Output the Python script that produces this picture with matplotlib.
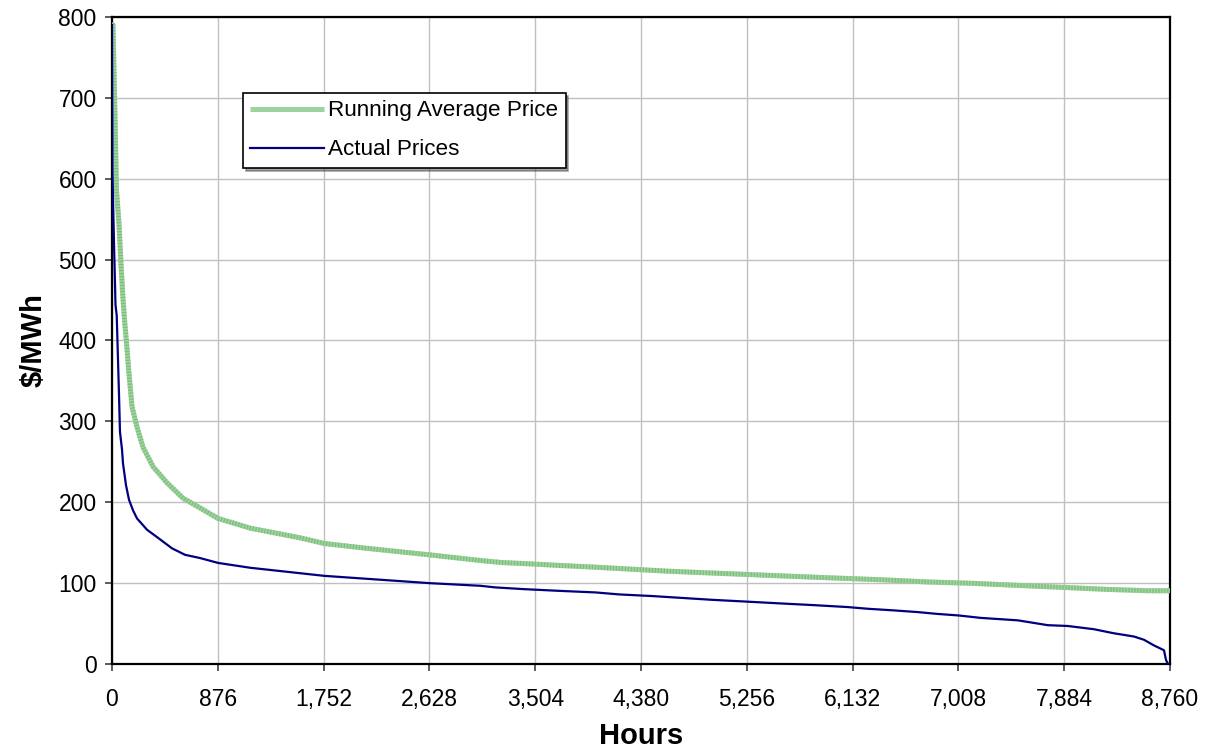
import matplotlib
matplotlib.use("Agg")
import matplotlib.pyplot as plt

plt.rcParams['font.family'] = ['Liberation Sans', 'DejaVu Sans']

# Actual prices (duration curve)
actual_hours = [0, 4, 8, 17, 29, 39, 58, 66, 83, 91, 116, 141, 174, 207, 290, 381, 497,
                605, 729, 878, 1144, 1757, 2627, 3050, 3174, 3406, 3696, 4003, 4202,
                4475, 4740, 4964, 5221, 5536, 5809, 6091, 6257, 6472, 6671, 6828, 7011,
                7193, 7500, 7748, 7914, 8130, 8295, 8461, 8544, 8627, 8710, 8727, 8743, 8760]
actual_prices = [790, 608, 577, 518, 444, 431, 333, 287, 265, 248, 221, 203, 190, 180, 166,
                 156, 143, 135, 131, 125, 119, 109, 100, 96.7, 94.7, 92.6, 90.5, 88.5, 86,
                 84, 81.5, 79.4, 77.4, 74.9, 72.8, 70.4, 68.3, 66.3, 64.2, 62, 60, 57, 54,
                 48, 47, 43, 38, 34, 30, 23, 17, 5, 0, 0]

# Running average price
avg_hours = [0, 8, 25, 37, 58, 75, 90, 105, 120, 140, 166, 207, 257, 340, 456, 588, 729,
             878, 1144, 1558, 1757, 2113, 2627, 3050, 3224, 3464, 3713, 4003, 4293, 4600,
             4931, 5263, 5602, 6008, 6381, 6762, 7135, 7508, 7881, 8246, 8577, 8760]
avg_prices = [790, 790, 675, 586, 544, 493, 454, 423, 398, 360, 318, 293, 268, 244, 224,
              205, 193, 180, 168, 156, 149, 143, 135, 128, 125.5, 123.8, 121.8, 119.7,
              117.3, 114.8, 112.7, 110.7, 108.6, 106.2, 104.1, 101.4, 99.7, 97.2, 94.7,
              92.2, 90.6, 90.6]

x_ticks = [0, 876, 1752, 2628, 3504, 4380, 5256, 6132, 7008, 7884, 8760]
y_ticks = [0, 100, 200, 300, 400, 500, 600, 700, 800]

W, H = 1207, 754
fig = plt.figure(figsize=(W / 100, H / 100), dpi=100)
ax = fig.add_axes([112 / W, 1 - 664 / H, (1170 - 112) / W, (664 - 17) / H])

ax.plot(avg_hours, avg_prices, color='#9ED29E', lw=3.6,
        solid_capstyle='butt', label='Running Average Price', zorder=3)
ax.plot(avg_hours, avg_prices, color='#7CC07C', lw=3.6, dashes=(0.25, 0.35),
        dash_capstyle='butt', zorder=3)
ax.plot(actual_hours, actual_prices, color='#000080', lw=1.6,
        label='Actual Prices', zorder=4)

ax.set_xlim(0, 8760)
ax.set_ylim(0, 800)
ax.set_xticks(x_ticks)
ax.set_xticklabels([f"{v:,}" for v in x_ticks])
ax.set_yticks(y_ticks)
ax.grid(True, color='#C0C0C0', lw=1.0)
ax.set_axisbelow(True)
for s in ax.spines.values():
    s.set_color('black')
    s.set_linewidth(1.6)
ax.tick_params(axis='both', direction='out', length=5, width=1.2, color='#404040',
               labelsize=16.5)
ax.tick_params(axis='x', pad=12)
ax.tick_params(axis='y', pad=6)

ax.set_xlabel('Hours', fontsize=21, fontweight='bold', labelpad=8)
ax.set_ylabel('$/MWh', fontsize=21, fontweight='bold', labelpad=8)

leg = ax.legend(loc='upper left', bbox_to_anchor=(243 / W, 1 - 93 / H),
                bbox_transform=fig.transFigure, borderaxespad=0, fontsize=16.2,
                frameon=True, fancybox=False, shadow=True, handlelength=3.25,
                handletextpad=0.2, labelspacing=0.8, borderpad=0.33)
leg.get_frame().set_edgecolor('black')
leg.get_frame().set_linewidth(1.2)

fig.savefig('out.png', dpi=100)
